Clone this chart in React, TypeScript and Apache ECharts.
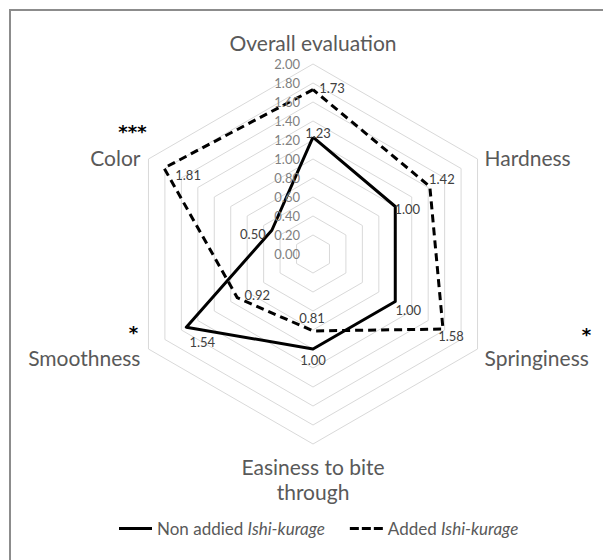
import React, { useEffect, useRef } from "react";
import * as echarts from "echarts";

// ---- data ----
const indicatorNames = [
  "Overall evaluation",
  "Color",
  "Smoothness",
  "Easiness to bite\nthrough",
  "Springiness",
  "Hardness",
];
const nonAdded = [1.23, 0.5, 1.54, 1.0, 1.0, 1.0];
const added = [1.73, 1.81, 0.92, 0.81, 1.58, 1.42];
const tickValues = [0, 0.2, 0.4, 0.6, 0.8, 1.0, 1.2, 1.4, 1.6, 1.8, 2.0];
const seriesNames = ["Non addied Ishi-kurage", "Added Ishi-kurage"];
const significance = ["", "***", "*", "", "*", ""];
const axisMax = 2;

// ---- layout / style (not data) ----
const FONT = "Lato, 'Noto Sans', sans-serif";
const nameOffsets: [number, number, string][] = [
  [0, -22, "center"],
  [-8, -2, "right"],
  [-8, 8, "right"],
  [0, 35, "center"],
  [7, 8, "left"],
  [7, -2, "left"],
];
const sigOffsets: [number, number][] = [
  [0, 0],
  [-16, -28],
  [-15, -17],
  [0, 0],
  [109, -15],
  [0, 0],
];
const nonAddedLabelOffsets: [number, number][] = [
  [5, -4],
  [-19, 4],
  [16, 15],
  [0, 11],
  [13, 8],
  [12, 2],
];
const addedLabelOffsets: [number, number][] = [
  [19, -2],
  [24, 7],
  [20, -3],
  [-1, -13],
  [8, 7],
  [12, -8],
];

export default function App() {
  const ref = useRef<HTMLDivElement>(null);

  useEffect(() => {
    if (!ref.current) return;
    const chart = echarts.init(ref.current, undefined, { renderer: "svg" });
    const center = [313, 254];
    const radius = 190;

    const option: any = {
      animation: false,
      backgroundColor: "#ffffff",
      legend: {
        left: 114,
        top: 515,
        itemWidth: 33,
        itemHeight: 3,
        itemGap: 25,
        data: [
          {
            name: seriesNames[0],
            icon: "path://M0,0H33V3H0Z",
            itemStyle: { color: "#000", borderWidth: 0 },
          },
          {
            name: seriesNames[1],
            icon: "path://M0,0H9V3H0Z M12,0H21V3H12Z M24,0H33V3H24Z",
            itemStyle: { color: "#000", borderWidth: 0 },
          },
        ],
        formatter: (n: string) =>
          n === seriesNames[0] ? "{n|Non addied }{i|Ishi-kurage}" : "{n|Added }{i|Ishi-kurage}",
        textStyle: {
          rich: {
            n: { fontSize: 17, color: "#595959", fontFamily: FONT },
            i: { fontSize: 17, color: "#595959", fontFamily: FONT, fontStyle: "italic" },
          },
        },
      },
      radar: {
        center,
        radius,
        startAngle: 90,
        splitNumber: 10,
        shape: "polygon",
        indicator: indicatorNames.map((n) => ({ name: n, min: 0, max: axisMax })),
        axisName: { show: false },
        axisLine: { show: false },
        axisTick: { show: false },
        axisLabel: { show: false },
        splitArea: { show: false },
        splitLine: { lineStyle: { color: "#d9d9d9", width: 1 } },
      },
      series: [
        {
          type: "radar",
          symbol: "none",
          z: 5,
          data: [
            {
              name: seriesNames[0],
              value: nonAdded,
              symbol: "none",
              lineStyle: { color: "#000", width: 3, type: "solid" },
              itemStyle: { color: "#000" },
            },
            {
              name: seriesNames[1],
              value: added,
              symbol: "none",
              lineStyle: { color: "#000", width: 3, type: [8, 5] },
              itemStyle: { color: "#000" },
            },
          ],
        },
      ],
    };
    chart.setOption(option);

    let cs: any = null;
    try {
      cs = (chart as any).getModel().getComponent("radar", 0).coordinateSystem;
    } catch (e) {
      cs = null;
    }
    const toPoint = (v: number, i: number): number[] => {
      if (cs && cs.dataToPoint) return cs.dataToPoint(v, i);
      const ang = Math.PI / 2 + (i * 2 * Math.PI) / indicatorNames.length;
      const r = (v / axisMax) * radius;
      return [center[0] + r * Math.cos(ang), center[1] - r * Math.sin(ang)];
    };

    const graphics: any[] = [];
    // frame
    graphics.push({
      type: "rect",
      z: 0,
      shape: { x: 10, y: 10, width: 640, height: 620 },
      style: { fill: "none", stroke: "#8c8c8c", lineWidth: 2 },
    });
    // tick labels along the first axis
    tickValues.forEach((t) => {
      const p = toPoint(t, 0);
      graphics.push({
        type: "text",
        z: 10,
        x: p[0] - 13,
        y: p[1],
        style: {
          text: t.toFixed(2),
          align: "right",
          verticalAlign: "middle",
          fill: "#7f7f7f",
          font: `13px ${FONT}`,
        },
      });
    });
    // indicator names and significance marks
    indicatorNames.forEach((n, i) => {
      const p = toPoint(axisMax, i);
      const o = nameOffsets[i];
      graphics.push({
        type: "text",
        z: 10,
        x: p[0] + o[0],
        y: p[1] + o[1],
        style: {
          text: n,
          align: o[2],
          verticalAlign: "middle",
          lineHeight: 25,
          fill: "#595959",
          font: `21px ${FONT}`,
        },
      });
      if (significance[i]) {
        const s = sigOffsets[i];
        graphics.push({
          type: "text",
          z: 10,
          x: p[0] + s[0],
          y: p[1] + s[1],
          style: {
            text: significance[i],
            align: "center",
            verticalAlign: "middle",
            fill: "#000",
            font: `bold 18px 'DejaVu Sans', sans-serif`,
          },
        });
      }
    });
    // data labels
    const addLabels = (vals: number[], offs: [number, number][]) => {
      vals.forEach((v, i) => {
        const p = toPoint(v, i);
        graphics.push({
          type: "text",
          z: 10,
          x: p[0] + offs[i][0],
          y: p[1] + offs[i][1],
          style: {
            text: v.toFixed(2),
            align: "center",
            verticalAlign: "middle",
            fill: "#404040",
            font: `13px ${FONT}`,
          },
        });
      });
    };
    addLabels(nonAdded, nonAddedLabelOffsets);
    addLabels(added, addedLabelOffsets);

    chart.setOption({ graphic: { elements: graphics } });

    return () => chart.dispose();
  }, []);

  return (
    <div
      ref={ref}
      style={{ position: "fixed", left: 0, top: 0, width: 603, height: 560 }}
    />
  );
}
